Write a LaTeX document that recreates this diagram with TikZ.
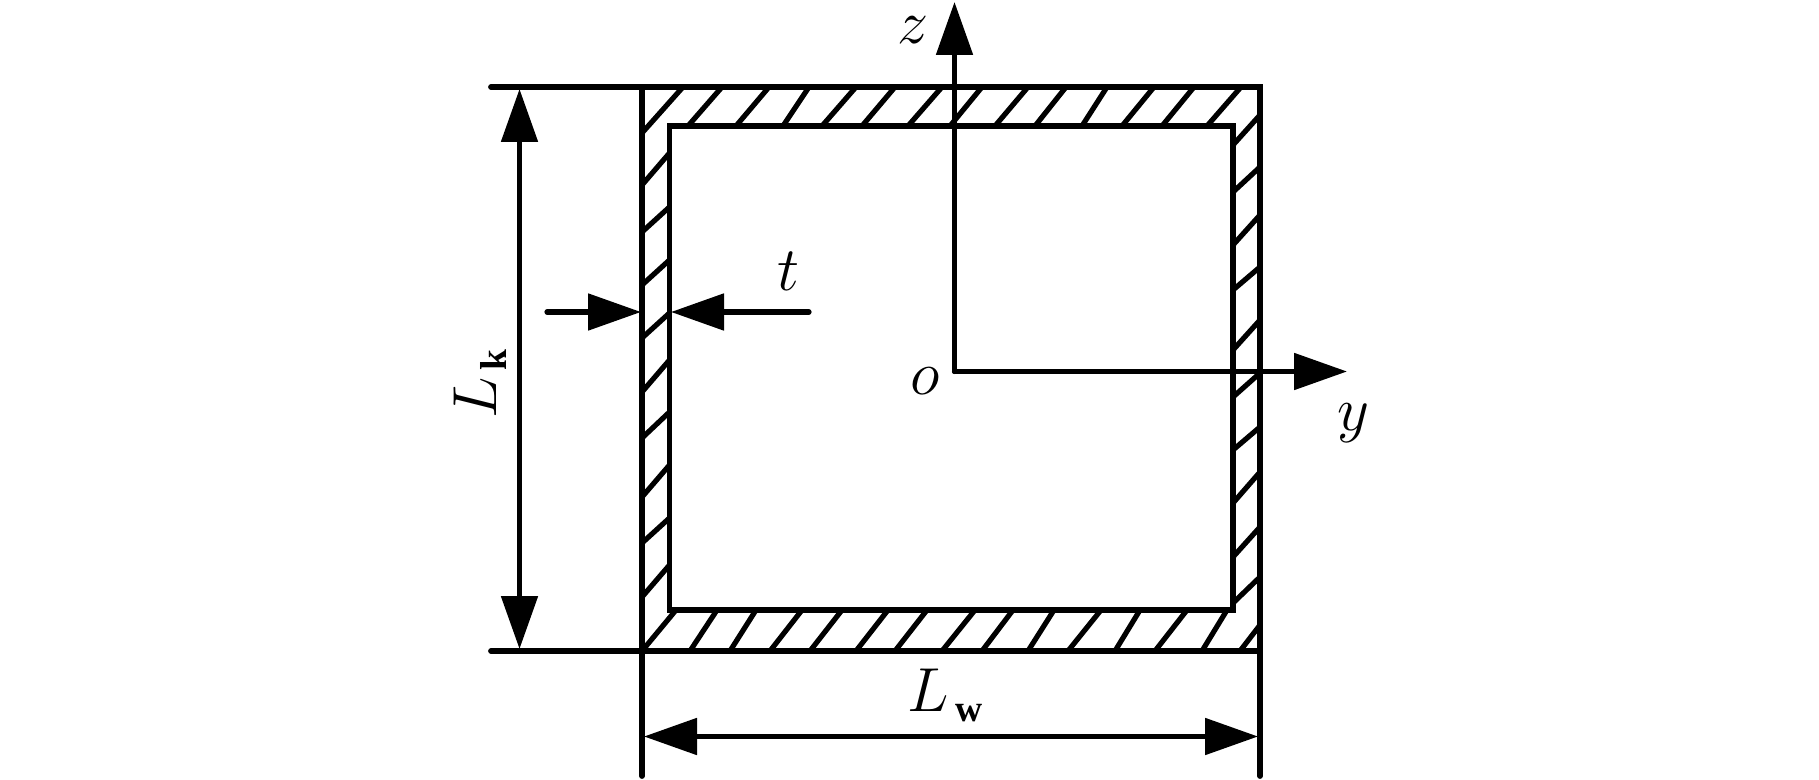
\documentclass[tikz,border=0pt]{standalone}
\usepackage{fontspec}
\setmainfont{Liberation Serif}
\usetikzlibrary{arrows.meta}
\tikzset{
	wall/.style={line width=2.9pt, line cap=round},
	hatchline/.style={line width=2.6pt},
	dimline/.style={line width=2.6pt, {Triangle[length=26.5pt,width=18pt]}-{Triangle[length=26.5pt,width=18pt]}},
	leader/.style={line width=2.6pt, line cap=round, -{Triangle[length=26.5pt,width=18pt]}},
	axislabel/.style={inner sep=0pt, scale=1.25, transform shape, font=\fontsize{24}{24}\selectfont},
	sizelabel/.style={inner sep=0pt, anchor=base, scale=1.25, transform shape, font=\fontsize{24}{24}\selectfont}
}
\newcommand{\subw}[1]{\hspace{2.5pt}\raisebox{-4pt}{\fontsize{15}{15}\selectfont\bfseries #1}}
\begin{document}
\begin{tikzpicture}[x=0.5pt, y=-0.5pt]
	\useasboundingbox (0,0) rectangle (1819,780);
	% section corners
	\coordinate (topfree) at (491,87);
	\coordinate (botfree) at (491,651);
	\coordinate (outtl) at (642,87);
	\coordinate (outtr) at (1260,87);
	\coordinate (outbl) at (642,651);
	\coordinate (outbr) at (1260,651);
	\coordinate (legl) at (642,776);
	\coordinate (legr) at (1260,776);
	\coordinate (origin) at (954.5,371.5);
	\coordinate (ztip) at (954.5,2);
	\coordinate (ytip) at (1347,371.5);
	% hatching of the top band
	\foreach \a/\b in {688/722, 736/769, 783/809, 822/856, 862/895, 908/942, 950/982, 995/1028, 1035/1066, 1082/1107, 1122/1154, 1162/1194, 1207/1241}
		\draw[hatchline] (\a,126) -- (\b,87);
	\draw[hatchline] (642,133) -- (683,87);
	% hatching of the bottom band
	\foreach \a/\b in {690/717, 730/756, 770/802, 810/842, 856/888, 895/927, 942/975, 982/1013, 1028/1054, 1068/1101, 1115/1140, 1155/1187, 1202/1227}
		\draw[hatchline] (\a,651) -- (\b,610);
	\draw[hatchline] (642,651) -- (676,610);
	\draw[hatchline] (1240,651) -- (1260,625);
	% hatching of the side walls
	\foreach \a/\b in {185/153, 232/207, 285/260, 338/313, 392/360, 438/412, 497/465, 543/518, 597/565}
		\draw[hatchline] (642,\a) -- (669.5,\b);
	\foreach \a/\b in {145/115, 192/167, 245/215, 290/267, 350/320, 397/373, 450/427, 503/472, 557/527, 603/577}
		\draw[hatchline] (1233,\a) -- (1260,\b);
	% section outline
	\draw[wall] (topfree) -- (outtr) -- (legr);
	\draw[wall] (botfree) -- (outbr);
	\draw[wall] (outtl) -- (legl);
	\draw[wall] (669.5,126) rectangle (1233,610);
	% axes
	\draw[leader] (origin) -- (ztip);
	\draw[leader] (origin) -- (ytip);
	% dimensions
	\coordinate (ktop) at (519.5,89);
	\coordinate (kbot) at (519.5,649);
	\coordinate (wleft) at (644,736.5);
	\coordinate (wright) at (1258,736.5);
	\coordinate (tfromleft) at (547,312);
	\coordinate (ttoleft) at (641,312);
	\coordinate (tfromright) at (809,312);
	\coordinate (ttoright) at (671,312);
	\draw[dimline] (ktop) -- (kbot);
	\draw[dimline] (wleft) -- (wright);
	\draw[leader] (tfromleft) -- (ttoleft);
	\draw[leader] (tfromright) -- (ttoright);
	% labels
	\node[axislabel] (zlabel) at (913,30) {$z$};
	\node[axislabel] (tlabel) at (788,271) {$t$};
	\node[axislabel] (olabel) at (925,381) {$o$};
	\node[axislabel] (ylabel) at (1353,423) {$y$};
	\node[sizelabel] (lwlabel) at (945,711) {$L$\subw{w}};
	\node[sizelabel, rotate=90] (lklabel) at (496,384) {$L$\subw{k}};
\end{tikzpicture}
\end{document}
